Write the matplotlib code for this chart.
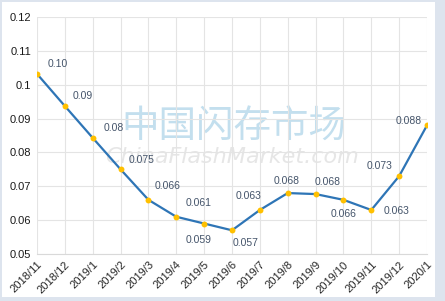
import matplotlib.pyplot as plt
from matplotlib.patches import Rectangle

# data
months = ['2018/11', '2018/12', '2019/1', '2019/2', '2019/3', '2019/4', '2019/5', '2019/6',
          '2019/7', '2019/8', '2019/9', '2019/10', '2019/11', '2019/12', '2020/1']
prices = [0.1032, 0.0937, 0.0843, 0.075, 0.066, 0.061, 0.059, 0.057,
          0.063, 0.068, 0.0677, 0.066, 0.063, 0.073, 0.088]
labels = ['0.10', '0.09', '0.08', '0.075', '0.066', '0.061', '0.059', '0.057',
          '0.063', '0.068', '0.068', '0.066', '0.063', '0.073', '0.088']
# label offsets in points (dx, dy)
offsets = [(15, 7), (13, 7), (15, 7), (15, 7), (14, 10), (16, 10), (-4, -12), (10, -9),
           (-8, 10), (-1, 9), (9, 9), (0, -10), (18, -1), (-14, 7), (-13, 3)]

fig = plt.figure(figsize=(4.45, 3.01), dpi=100, facecolor='#dde4ee')
fig.patches.append(Rectangle((2 / 445, 4 / 301), 433 / 445, 295 / 301,
                             transform=fig.transFigure, facecolor='white',
                             edgecolor='none', zorder=-10))
ax = fig.add_axes([37 / 445, 1 - 254 / 301, 390 / 445, 237 / 301])
ax.set_facecolor('none')

x = list(range(len(months)))
ax.plot(x, prices, color='#2e75b6', lw=1.6, zorder=3)
ax.scatter(x, prices, s=18, color='#ffc000', zorder=4, linewidths=0)

for xi, yi, lab, (dx, dy) in zip(x, prices, labels, offsets):
    ax.annotate(lab, (xi, yi), xytext=(dx, dy), textcoords='offset points',
                ha='center', va='center', fontsize=7.5, color='#44546a',
                family='Liberation Sans', zorder=5)

# watermark
ax.text(0.505, 0.535, '中国闪存市场', transform=ax.transAxes, ha='center', va='center',
        fontsize=27, color='#c3dfee', family='Noto Sans CJK SC', zorder=1)
ax.text(0.50, 0.41, 'ChinaFlashMarket.com', transform=ax.transAxes, ha='center',
        va='center', fontsize=16, color='#e6e6e6', style='italic',
        family='DejaVu Sans', zorder=1)

ax.set_xlim(0, len(months) - 1)
ax.set_ylim(0.05, 0.12)
ax.set_xticks(x)
ax.set_xticklabels(months, rotation=45, ha='right', rotation_mode='anchor',
                   fontsize=8, family='Liberation Sans', color='#262626')
yt = [0.05, 0.06, 0.07, 0.08, 0.09, 0.1, 0.11, 0.12]
ax.set_yticks(yt)
ax.set_yticklabels(['0.05', '0.06', '0.07', '0.08', '0.09', '0.1', '0.11', '0.12'],
                   fontsize=8, family='Liberation Sans', color='#1a1a1a')
ax.tick_params(length=0, pad=4)
ax.grid(True, color='#e4e4e4', lw=0.8, zorder=0)
for s in ['top', 'right', 'left']:
    ax.spines[s].set_visible(False)
ax.spines['bottom'].set_color('#d9d9d9')

fig.savefig('out.png', dpi=100, facecolor=fig.get_facecolor())
